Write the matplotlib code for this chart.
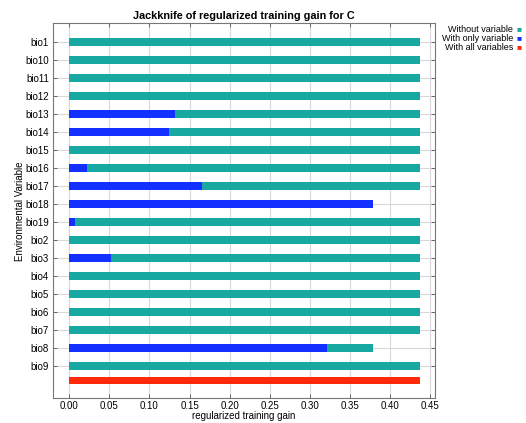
import matplotlib
matplotlib.use('Agg')
import matplotlib.pyplot as plt

plt.rcParams['font.family'] = ['Liberation Sans', 'DejaVu Sans']

VARIABLES = ['bio1', 'bio10', 'bio11', 'bio12', 'bio13', 'bio14', 'bio15',
             'bio16', 'bio17', 'bio18', 'bio19', 'bio2', 'bio3', 'bio4',
             'bio5', 'bio6', 'bio7', 'bio8', 'bio9']
WITHOUT = [0.437, 0.437, 0.437, 0.437, 0.437, 0.437, 0.437,
           0.437, 0.437, 0.320, 0.437, 0.437, 0.437, 0.437,
           0.437, 0.437, 0.437, 0.379, 0.437]
ONLY = [0.0, 0.0, 0.0, 0.0, 0.132, 0.125, 0.0,
        0.022, 0.165, 0.379, 0.007, 0.0, 0.052, 0.0,
        0.0, 0.0, 0.0, 0.321, 0.0]
ALL_VARS = 0.437

TEAL = '#17a8a2'
BLUE = '#1230ff'
RED = '#ff2a0a'

fig = plt.figure(figsize=(5.26, 4.23), dpi=100)
ax = fig.add_axes([0.101, 0.058, 0.726, 0.887])

pos = list(range(len(VARIABLES)))
h = 0.44
ax.barh(pos, WITHOUT, height=h, color=TEAL, zorder=2)
ax.barh(pos, ONLY, height=h, color=BLUE, zorder=3)
red_pos = len(VARIABLES) - 1 + 0.8
ax.barh([red_pos], [ALL_VARS], height=h, color=RED, zorder=3)

ax.set_yticks(pos)
ax.set_yticklabels(VARIABLES, fontsize=7)
ax.set_ylim(red_pos + 1.0, -1.05)
ax.set_xlim(-0.02, 0.456)
xt = [i * 0.05 for i in range(10)]
ax.set_xticks(xt)
ax.set_xticklabels(['%.2f' % v for v in xt], fontsize=7)

ax.grid(True, color='#d8d8d8', linewidth=0.8, zorder=0)
ax.set_axisbelow(True)
ax.tick_params(direction='in', length=3, width=0.6, top=True, right=True,
               color='#555555', pad=3)
ax.tick_params(axis='x', pad=2)
for s in ax.spines.values():
    s.set_color('#777777')
    s.set_linewidth(0.8)

ax.set_title('Jackknife of regularized training gain for C', fontsize=7.8,
             fontweight='bold', pad=3)
ax.set_xlabel('regularized training gain', fontsize=7, labelpad=0)
ax.set_ylabel('Environmental Variable', fontsize=7, labelpad=0)

# legend drawn as text with square markers at the top right
labels = ['Without variable', 'With only variable', 'With all variables']
colors = [TEAL, BLUE, RED]
for i, (lab, c) in enumerate(zip(labels, colors)):
    y = 1 - (30 + i * 8.8) / 423
    fig.text(513 / 526, y, lab, ha='right', va='center', fontsize=6.5)
    fig.text(519 / 526, y, '\u25a0', ha='center', va='center', fontsize=6,
             color=c)

fig.savefig('out.png', dpi=100)
